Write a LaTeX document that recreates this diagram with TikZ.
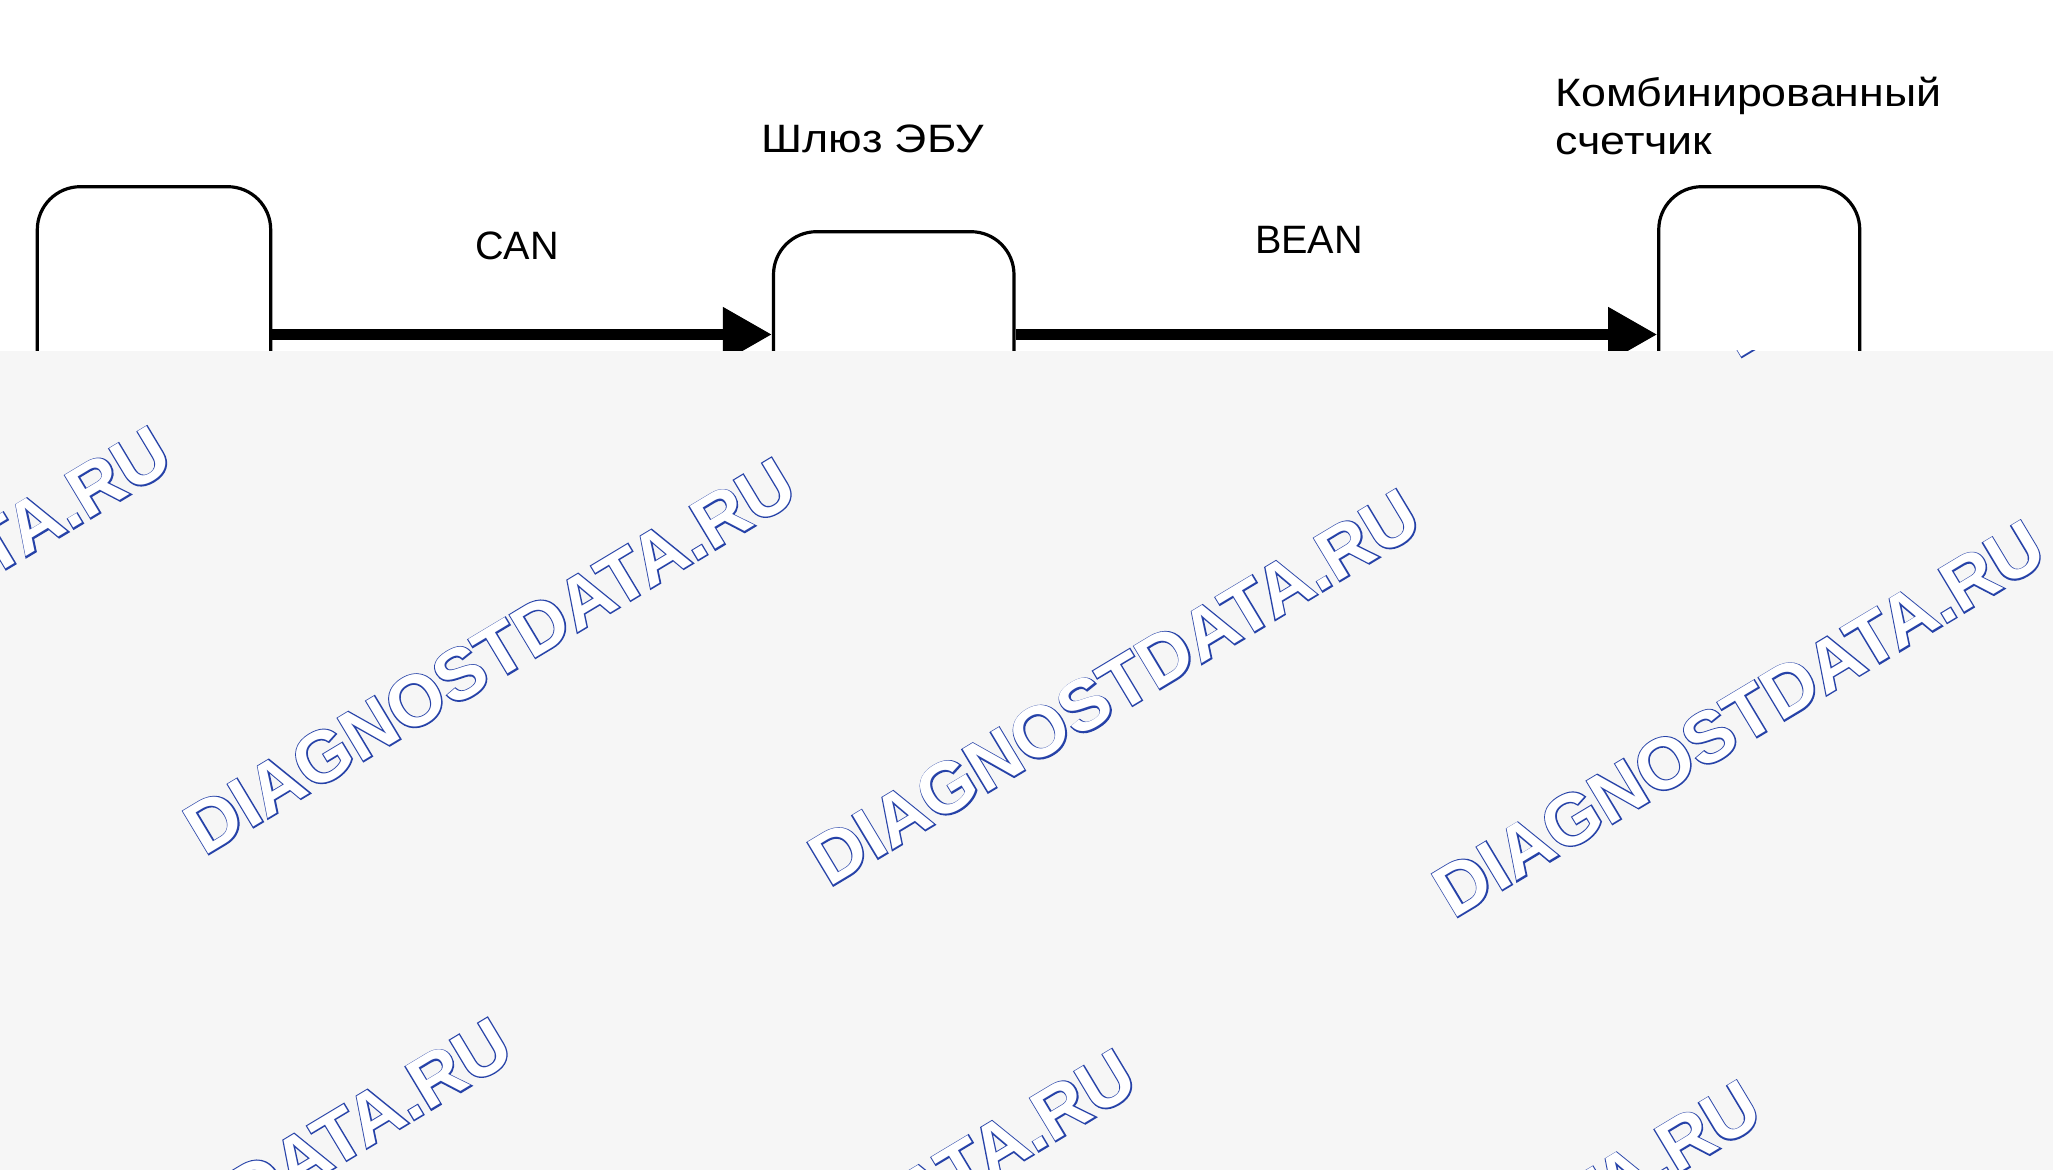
\documentclass[tikz,border=0pt]{standalone}
\usepackage{fontspec}
\setmainfont{Liberation Sans}
\newfontfamily\cyrwide[FakeStretch=1.13]{Liberation Sans}
\newfontfamily\wmplain{Liberation Sans}
\newfontfamily\wmedge[BoldFeatures={FakeBold=3.5}]{Liberation Sans}
\usepackage{tikz}
\usetikzlibrary{arrows.meta,positioning}
\usepackage{xcolor}
\definecolor{wmblue}{RGB}{38,66,168}
\definecolor{veilgray}{RGB}{246,246,246}
\newcommand{\wmtext}{%
  \rlap{\wmedge\bfseries\color{wmblue}DIAGNOSTDATA.RU}%
  {\wmplain\bfseries\color{white}DIAGNOSTDATA.RU}}
\tikzset{
    unit/.style={
        draw=black,line width=1.6pt,rounded corners=21.5pt,
        inner sep=0pt,minimum width=#1
    },
    unit/.default=100pt,
    lbl/.style={
        inner sep=0pt,font=\fontsize{19.8pt}{24pt}\selectfont
    },
    busarrow/.style={
        -{Triangle[length=24.5pt,width=26pt]},line width=5.5pt,draw=black
    },
    veil/.style={fill=veilgray,draw=none},
    stamp/.style={
        rotate=31,inner sep=0pt,font=\fontsize{36.1pt}{40pt}\selectfont
    }
}

\begin{document}
\begin{tikzpicture}[x=0.5pt,y=-0.5pt]
\useasboundingbox (0,0) rectangle (2053,1170);

% blocks
\node[unit=116.7pt,minimum height=147.8pt] (ecu) at (154,334.5) {};
\node[unit=120.25pt,minimum height=102.8pt] (gw) at (893.75,334.5) {};
\node[unit=100.5pt,minimum height=147.8pt] (meter) at (1759.25,334.5) {};

% bus lines
\draw[busarrow] (ecu) -- (gw);
\draw[busarrow] (gw) -- (meter);

\node[lbl,anchor=base] (can) at (517,260) {CAN};
\node[lbl,anchor=base] (bean) at (1309,254) {BEAN};
\node[lbl,anchor=base west] (gwname) at (761,153) {\cyrwide Шлюз ЭБУ};
\node[lbl,anchor=base west,align=left] (metername) at (1555,155)
{\cyrwide Комбинированный\\\cyrwide счетчик};

% watermark veil
\fill[veil] (0,351) rectangle (2053,1170);
\begin{scope}
\clip (0,351) rectangle (2053,1170);
\foreach \r in {-1,0,1}
  \foreach \c in {-1,...,3}
    \node[stamp] at ({490+624.5*\c-284*\r},{656+31.4*\c+560*\r}) {\wmtext};
\end{scope}

\end{tikzpicture}
\end{document}
